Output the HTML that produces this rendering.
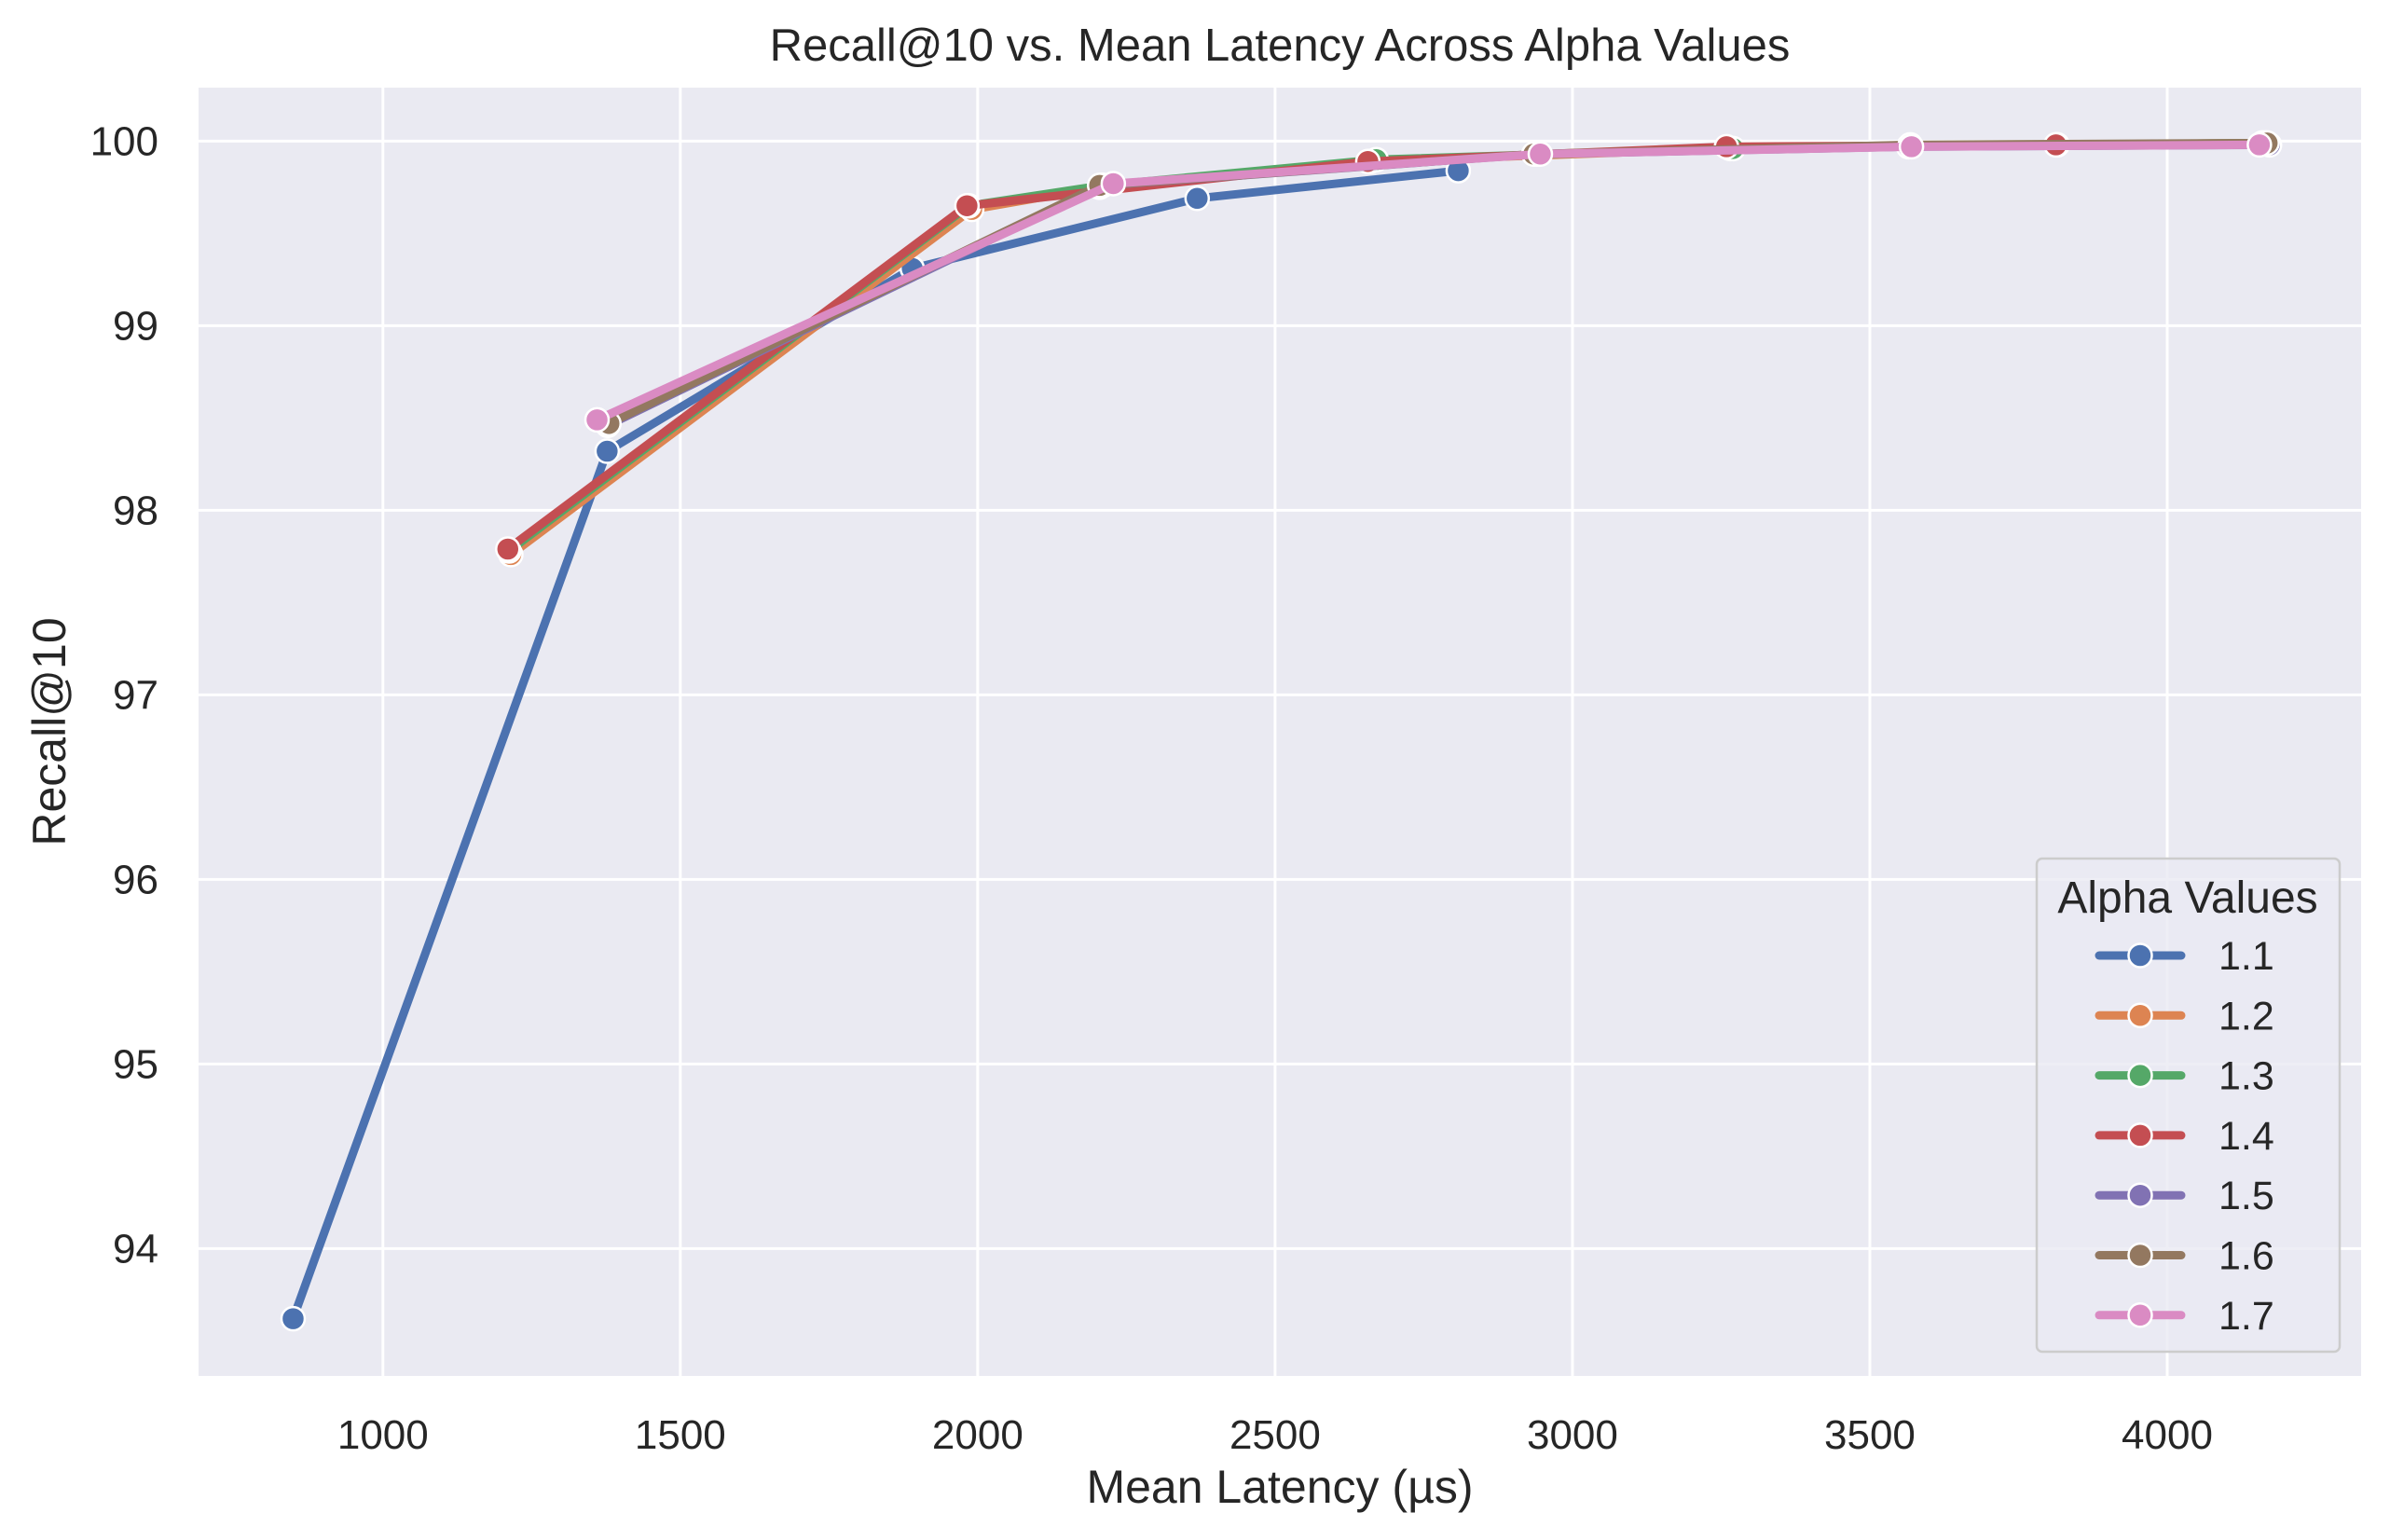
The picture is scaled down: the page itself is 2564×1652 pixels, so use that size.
<!DOCTYPE html>
<html><head><meta charset="utf-8"><style>
html,body{margin:0;padding:0;background:#fff;}
svg{display:block;font-family:"Liberation Sans","DejaVu Sans",sans-serif;}
</style></head><body>
<svg id="chart" width="2564" height="1652" viewBox="0 0 2564 1652" xmlns="http://www.w3.org/2000/svg">
<rect x="0" y="0" width="2564" height="1652" fill="#fff"/>
<rect x="213" y="94" width="2320" height="1382" fill="#eaeaf2"/>
<g id="grid"></g>
<g id="series"></g>
<g id="ticks"></g>
<text x="1373" y="65" text-anchor="middle" font-size="49" fill="#262626">Recall@10 vs. Mean Latency Across Alpha Values</text>
<text x="1373" y="1612" text-anchor="middle" font-size="50" fill="#262626">Mean Latency (µs)</text>
<text x="70" y="785" text-anchor="middle" font-size="50" fill="#262626" transform="rotate(-90 70 785)">Recall@10</text>
<g id="legend"></g>
</svg>
<script>
const xTicks = [1000,1500,2000,2500,3000,3500,4000];
const yTicks = [94,95,96,97,98,99,100];
const seriesNames = ["1.1","1.2","1.3","1.4","1.5","1.6","1.7"];
const seriesColors = ["#4c72b0","#dd8452","#55a868","#c44e52","#8172b3","#937860","#da8bc3"];
const lat11 = [849,1377,1890,2369,2808];
const rec11 = [93.62,98.32,99.31,99.69,99.84];
const lat12 = [1215,1990,2205,2660,3265,3815,4165];
const rec12 = [97.76,99.63,99.75,99.89,99.96,99.98,99.99];
const lat13 = [1212,1985,2210,2670,3270,3815,4160];
const rec13 = [97.78,99.65,99.76,99.90,99.96,99.98,99.99];
const lat14 = [1210,1982,2656,3259,3813];
const rec14 = [97.79,99.65,99.89,99.97,99.98];
const lat15 = [1378,2210,2940,3565,4172];
const rec15 = [98.46,99.76,99.93,99.97,99.98];
const lat16 = [1380,2205,2935,3568,4168];
const rec16 = [98.47,99.76,99.93,99.98,99.99];
const lat17 = [1360,2228,2946,3570,4155];
const rec17 = [98.49,99.77,99.93,99.97,99.98];
const allLat = [lat11,lat12,lat13,lat14,lat15,lat16,lat17];
const allRec = [rec11,rec12,rec13,rec14,rec15,rec16,rec17];

const NS="http://www.w3.org/2000/svg";
const X0=213,X1=2533,Y0=94,Y1=1476;
const xMin=690,xMax=4326,yMin=93.31,yMax=100.29;
function sx(v){return X0+(v-xMin)/(xMax-xMin)*(X1-X0);}
function sy(v){return Y1-(v-yMin)/(yMax-yMin)*(Y1-Y0);}
function mk(tag,attrs,parent){const e=document.createElementNS(NS,tag);for(const k in attrs)e.setAttribute(k,attrs[k]);parent.appendChild(e);return e;}
const grid=document.getElementById('grid'),ticks=document.getElementById('ticks');
xTicks.forEach(t=>{
  const l=mk('line',{x1:sx(t),x2:sx(t),y1:Y0,y2:Y1,stroke:'#fff','stroke-width':3},grid);
  
  
  const tx=mk('text',{x:sx(t),y:1554,'text-anchor':'middle','font-size':44,fill:'#262626'},ticks);
  tx.textContent=t;
  
  
});
yTicks.forEach(t=>{
  const l=mk('line',{x1:X0,x2:X1,y1:sy(t),y2:sy(t),stroke:'#fff','stroke-width':3},grid);
  
  
  const tx=mk('text',{x:170,y:sy(t)+15,'text-anchor':'end','font-size':44,fill:'#262626'},ticks);
  tx.textContent=t;
  
  
});
const sg=document.getElementById('series');
allLat.forEach((lat,i)=>{
  const g=mk('g',{},sg);
  
  
  const pts=lat.map((v,j)=>sx(v)+','+sy(allRec[i][j])).join(' ');
  const pl=mk('polyline',{points:pts,fill:'none',stroke:seriesColors[i],'stroke-width':9,'stroke-linejoin':'round','stroke-linecap':'round'},g);
  
  
  lat.forEach((v,j)=>{
    const c=mk('circle',{cx:sx(v),cy:sy(allRec[i][j]),r:12.5,fill:seriesColors[i],stroke:'#fff','stroke-width':2.5},g);
    
    
  });
});
const lg=document.getElementById('legend');


mk('rect',{x:2185,y:921,width:325,height:529,rx:6,fill:'#eaeaf2','fill-opacity':0.8,stroke:'#cccccc','stroke-width':2.5},lg);
const lt=mk('text',{x:2347,y:979,'text-anchor':'middle','font-size':48,fill:'#262626'},lg);
lt.textContent='Alpha Values';


seriesNames.forEach((n,i)=>{
  const y=1025+i*64.3;
  const eg=mk('g',{},lg);
  
  
  mk('line',{x1:2252,x2:2340,y1:y,y2:y,stroke:seriesColors[i],'stroke-width':9,'stroke-linecap':'round'},eg);
  mk('circle',{cx:2296,cy:y,r:12.5,fill:seriesColors[i],stroke:'#fff','stroke-width':2.5},eg);
  const t=mk('text',{x:2380,y:y+15,'font-size':43,fill:'#262626'},eg);
  t.textContent=n;
});
</script>
</body></html>
